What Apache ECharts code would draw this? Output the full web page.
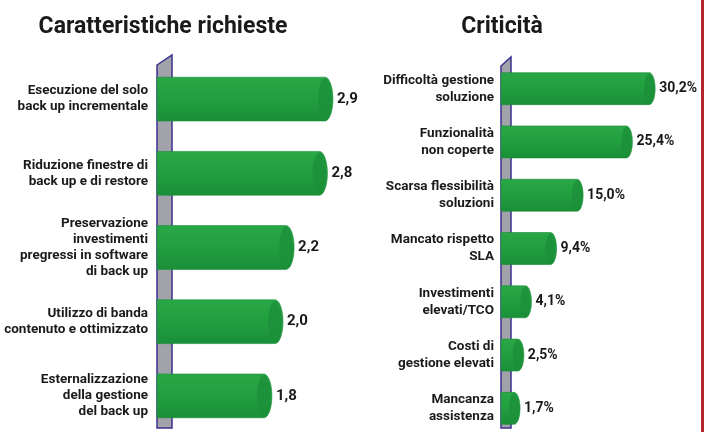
<!DOCTYPE html>
<html>
<head>
<meta charset="utf-8">
<script src="https://cdn.jsdelivr.net/npm/echarts@6/dist/echarts.min.js"></script>
<style>
  html, body { margin: 0; padding: 0; background: #fff; }
  #chart { width: 706px; height: 432px; }
</style>
</head>
<body>
<div id="chart"></div>
<script>
// Caratteristiche richieste (punteggio medio)
var leftCategories = [
  'Esecuzione del solo\nback up incrementale',
  'Riduzione finestre di\nback up e di restore',
  'Preservazione\ninvestimenti\npregressi in software\ndi back up',
  'Utilizzo di banda\ncontenuto e ottimizzato',
  'Esternalizzazione\ndella gestione\ndel back up'
]
var leftValues = [2.9, 2.8, 2.2, 2.0, 1.8]

// Criticità (%)
var rightCategories = [
  'Difficoltà gestione\nsoluzione',
  'Funzionalità\nnon coperte',
  'Scarsa flessibilità\nsoluzioni',
  'Mancato rispetto\nSLA',
  'Investimenti\nelevati/TCO',
  'Costi di\ngestione elevati',
  'Mancanza\nassistenza'
]
var rightValues = [30.2, 25.4, 15.0, 9.4, 4.1, 2.5, 1.7]

var FONT = 'Roboto, "DejaVu Sans", sans-serif'

function toPairs(values) {
  return values.map(function (v, i) { return [v, i] })
}

// cylinder-like bar: flat on the wall, elliptical cap on the right
function makeRender(wallW, ratio, cap, suffix, fontSize) {
  return function (params, api) {
    var v = api.value(0)
    var idx = api.value(1)
    var end = api.coord([v, idx])
    var start = api.coord([0, idx])
    var h = api.size([0, 1])[1] * ratio
    var x0 = start[0] - wallW
    var x1 = end[0]
    var yc = end[1]
    var top = yc - h / 2
    var cx = x1 - cap
    var body = [[x0, top]]
    var face = []
    for (var i = 0; i <= 20; i++) {
      var a = -Math.PI / 2 + Math.PI * i / 20
      body.push([cx + cap * Math.cos(a), yc + h / 2 * Math.sin(a)])
    }
    body.push([x0, top + h])
    for (var j = 0; j < 32; j++) {
      var b = Math.PI * 2 * j / 32
      face.push([cx + cap * 0.85 * Math.cos(b), yc + (h / 2 - 1) * Math.sin(b)])
    }
    return {
      type: 'group',
      children: [
        {
          type: 'polygon',
          shape: { points: body },
          style: {
            fill: new echarts.graphic.LinearGradient(0, 0, 0, 1, [
              { offset: 0, color: '#2aa846' },
              { offset: 0.45, color: '#22a040' },
              { offset: 1, color: '#1a8f38' }
            ]),
            stroke: '#178a35',
            lineWidth: 0.6
          }
        },
        {
          type: 'polygon',
          shape: { points: face },
          style: { fill: '#1b9039', opacity: 0.8 }
        },
        {
          type: 'text',
          style: {
            x: x1 + 4,
            y: yc,
            text: v.toFixed(1).replace('.', ',') + suffix,
            fill: '#1a1a1a',
            font: 'bold ' + fontSize + 'px ' + FONT,
            verticalAlign: 'middle'
          }
        }
      ]
    }
  }
}

var chart = echarts.init(document.getElementById('chart'))

chart.setOption({
  backgroundColor: '#ffffff',
  animation: false,
  title: [
    {
      text: 'Caratteristiche richieste',
      left: 158,
      top: 11,
      textAlign: 'center',
      textStyle: { fontFamily: FONT, fontSize: 23, fontWeight: 'bold', color: '#1a1a1a' }
    },
    {
      text: 'Criticità',
      left: 497,
      top: 11,
      textAlign: 'center',
      textStyle: { fontFamily: FONT, fontSize: 23, fontWeight: 'bold', color: '#1a1a1a' }
    }
  ],
  grid: [
    { left: 172, top: 62, width: 222, height: 371, outerBoundsMode: 'none' },
    { left: 512, top: 62, width: 189.6, height: 373, outerBoundsMode: 'none' }
  ],
  xAxis: [
    { type: 'value', gridIndex: 0, min: 0, max: 4, show: false },
    { type: 'value', gridIndex: 1, min: 0, max: 40, show: false }
  ],
  yAxis: [
    {
      type: 'category',
      gridIndex: 0,
      inverse: true,
      data: leftCategories,
      axisLine: { show: false },
      axisTick: { show: false },
      splitLine: { show: false },
      axisLabel: {
        margin: 24,
        color: '#1a1a1a',
        fontFamily: FONT,
        fontSize: 13.5,
        fontWeight: 'bold',
        lineHeight: 16,
        align: 'right'
      }
    },
    {
      type: 'category',
      gridIndex: 1,
      inverse: true,
      data: rightCategories,
      axisLine: { show: false },
      axisTick: { show: false },
      splitLine: { show: false },
      axisLabel: {
        margin: 18,
        color: '#1a1a1a',
        fontFamily: FONT,
        fontSize: 13.5,
        fontWeight: 'bold',
        lineHeight: 17,
        align: 'right'
      }
    }
  ],
  graphic: [
    // left wall
    {
      type: 'polygon',
      z: 1,
      shape: { points: [[157, 65], [172, 55], [172, 428], [157, 428]] },
      style: { fill: '#a2a2aa', stroke: '#3b3290', lineWidth: 1.5 }
    },
    // right wall
    {
      type: 'polygon',
      z: 1,
      shape: { points: [[501, 66], [511, 57], [511, 428], [501, 428]] },
      style: { fill: '#a2a2aa', stroke: '#3b3290', lineWidth: 1.5 }
    },
    // red frame line on the right
    {
      type: 'rect',
      z: 1,
      shape: { x: 701, y: 0, width: 3, height: 432 },
      style: { fill: '#b3262b' }
    }
  ],
  series: [
    {
      type: 'custom',
      xAxisIndex: 0,
      yAxisIndex: 0,
      z: 5,
      encode: { x: 0, y: 1 },
      renderItem: makeRender(15, 0.59, 8, '', 15),
      data: toPairs(leftValues)
    },
    {
      type: 'custom',
      xAxisIndex: 1,
      yAxisIndex: 1,
      z: 5,
      encode: { x: 0, y: 1 },
      renderItem: makeRender(11, 0.6, 6, '%', 14),
      data: toPairs(rightValues)
    }
  ]
})
</script>
</body>
</html>
